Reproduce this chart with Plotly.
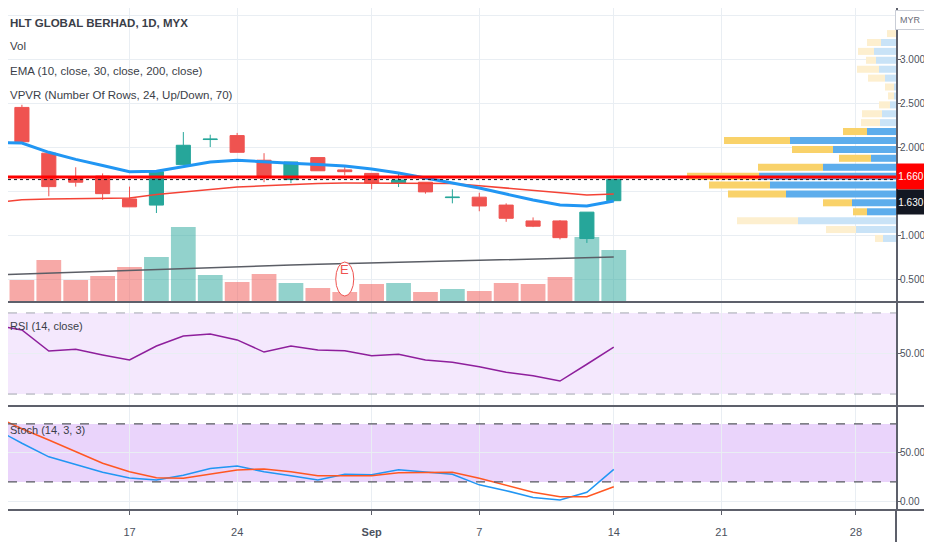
"""
HLT Global Berhad daily chart: candles, volume, EMAs, volume profile, RSI and Stoch.
"""
import plotly.graph_objects as go

# trading days only (Aug 20 and Aug 31 are market holidays)
dates = ["2020-08-10", "2020-08-11", "2020-08-12", "2020-08-13", "2020-08-14",
         "2020-08-17", "2020-08-18", "2020-08-19", "2020-08-21", "2020-08-24",
         "2020-08-25", "2020-08-26", "2020-08-27", "2020-08-28", "2020-09-01",
         "2020-09-02", "2020-09-03", "2020-09-04", "2020-09-07", "2020-09-08",
         "2020-09-09", "2020-09-10", "2020-09-11", "2020-09-14"]
future_dates = ["2020-09-15", "2020-09-17", "2020-09-18", "2020-09-21", "2020-09-22",
                "2020-09-23", "2020-09-24", "2020-09-25", "2020-09-28", "2020-09-29",
                "2020-09-30"]

opens = [2.52, 2.45, 1.93, 1.65, 1.67, 1.41, 1.34, 1.80, 2.085, 2.13, 1.85, 1.63,
         1.88, 1.74, 1.70, 1.59, 1.60, 1.425, 1.43, 1.34, 1.16, 1.16, 0.96, 1.39]
highs = [2.55, 2.48, 1.95, 1.77, 1.70, 1.55, 1.72, 2.17, 2.14, 2.16, 1.93, 1.83,
         1.88, 1.78, 1.70, 1.70, 1.60, 1.52, 1.48, 1.36, 1.20, 1.17, 1.26, 1.63]
lows = [2.15, 2.05, 1.44, 1.55, 1.40, 1.32, 1.25, 1.80, 2.00, 1.94, 1.60, 1.59,
        1.73, 1.68, 1.52, 1.545, 1.47, 1.36, 1.27, 1.15, 1.09, 0.95, 0.91, 1.38]
closes = [2.17, 2.06, 1.55, 1.60, 1.47, 1.32, 1.72, 2.02, 2.09, 1.94, 1.65, 1.83,
          1.73, 1.72, 1.59, 1.625, 1.49, 1.43, 1.33, 1.19, 1.10, 0.97, 1.26, 1.63]
volumes = [4.0, 2.1, 4.1, 2.1, 2.5, 3.4, 4.4, 7.4, 2.6, 1.9, 2.7, 1.8,
           1.3, 0.9, 1.7, 1.8, 0.9, 1.2, 1.0, 1.8, 1.7, 2.4, 6.4, 5.1]

ema10 = [2.05, 2.045, 1.94, 1.86, 1.79, 1.72, 1.725, 1.78, 1.83, 1.85, 1.83, 1.815,
         1.80, 1.784, 1.75, 1.705, 1.648, 1.59, 1.534, 1.466, 1.398, 1.34, 1.33, 1.386]
ema30 = [1.37, 1.40, 1.41, 1.415, 1.42, 1.42, 1.46, 1.49, 1.52, 1.545, 1.56, 1.575,
         1.585, 1.59, 1.59, 1.59, 1.59, 1.585, 1.56, 1.535, 1.505, 1.477, 1.455, 1.465]
ema200 = [0.545, 0.556, 0.567, 0.578, 0.589, 0.600, 0.610, 0.620, 0.630, 0.640, 0.649, 0.658,
          0.667, 0.675, 0.683, 0.691, 0.699, 0.707, 0.714, 0.721, 0.728, 0.735, 0.742, 0.749]

rsi = [64.0, 61.6, 51.2, 52.1, 49.3, 46.8, 53.7, 58.6, 59.6, 56.7, 50.7, 53.7,
       51.7, 51.4, 48.9, 49.6, 46.8, 45.7, 43.5, 40.7, 39.0, 36.4, 44.7, 53.1]
stoch_k = [75, 60, 46, 38, 30, 24, 22, 27, 34, 36.5, 30.5, 26.5,
           22, 28, 27.5, 32.5, 30.5, 28, 17, 11, 4, 1.3, 9.3, 33]
stoch_d = [88, 75, 63.4, 51, 39.3, 30.6, 24.4, 23.8, 28.2, 32.4, 33.4, 30.6,
           26.5, 26.5, 26.5, 29.6, 30, 30, 23.8, 16.9, 9.3, 4.8, 4.8, 15.1]

# volume profile, 24 rows from bottom to top
vpvr_price = [0.961, 1.062, 1.163, 1.264, 1.366, 1.467, 1.568, 1.669, 1.771, 1.872,
              1.973, 2.074, 2.176, 2.277, 2.378, 2.479, 2.581, 2.682, 2.783, 2.884,
              2.986, 3.087, 3.188, 3.289]
vpvr_up = [13, 40, 98, 29, 44, 110, 126, 137, 73, 25, 63, 106,
           29, 16, 14, 6, 2, 2, 11, 17, 20, 22, 15, 0]
vpvr_down = [8, 30, 61, 14, 29, 58, 61, 72, 65, 32, 41, 66,
             24, 19, 20, 11, 6, 9, 17, 22, 10, 16, 14, 9]
vpvr_value_area = [False, False, False, True, True, True, True, True, True, True,
                   True, True, True, False, False, False, False, False, False, False,
                   False, False, False, False]

tick_dates = ["2020-08-17", "2020-08-24", "2020-09-01", "2020-09-07",
              "2020-09-14", "2020-09-21", "2020-09-28"]
tick_labels = ["17", "24", "<b>Sep</b>", "7", "14", "21", "28"]
price_ticks = [0.5, 1.0, 1.5, 2.0, 2.5, 3.0, 3.5]
price_tick_labels = ["0.500", "1.000", "", "2.000", "2.500", "3.000", ""]

hline_level = 1.66
earnings_date = "2020-08-28"
rsi_bands = (30, 70)
stoch_bands = (20, 80)

UP = "#26A69A"
DOWN = "#EF5350"
GRID = "#E9EEF3"
AXIS = "#5D606B"
TEXT = "#4C525E"
FONT = "Liberation Sans, Arial, sans-serif"

# the page body adds an 8px margin, and the right 8px of the window are not shown
W, H = 916, 534
PW, PH = 888, 502  # plot area


def px(x):
    return (x - 8) / PW


def py(y):
    return 1 - (y - 8) / PH


categories = dates + future_dates
vol_colors = ["rgba(38,166,154,0.5)" if c >= o else "rgba(239,83,80,0.5)"
              for o, c in zip(opens, closes)]
up_colors = ["#5DADEC" if v else "#C9E3F7" for v in vpvr_value_area]
down_colors = ["#F9D26A" if v else "#FDEFCF" for v in vpvr_value_area]

fig = go.Figure()

fig.add_trace(go.Bar(x=dates, y=volumes, marker=dict(color=vol_colors, line=dict(width=0)),
                     width=0.92, xaxis="x", yaxis="y", hoverinfo="skip"))

fig.add_trace(go.Scatter(x=dates, y=ema200, mode="lines", line=dict(color="#5B5E66", width=1.5),
                         xaxis="x", yaxis="y2"))
fig.add_trace(go.Scatter(x=dates, y=ema30, mode="lines", line=dict(color="#F44336", width=1.5),
                         xaxis="x", yaxis="y2"))
fig.add_trace(go.Candlestick(
    x=dates, open=opens, high=highs, low=lows, close=closes,
    increasing=dict(line=dict(color=UP, width=1), fillcolor=UP),
    decreasing=dict(line=dict(color=DOWN, width=1), fillcolor=DOWN),
    whiskerwidth=0, xaxis="x", yaxis="y2"))
fig.add_trace(go.Scatter(x=dates, y=ema10, mode="lines", line=dict(color="#2196F3", width=3),
                         xaxis="x", yaxis="y2"))

# volume profile on a reversed overlay axis so the bars grow from the right edge
fig.add_trace(go.Bar(y=vpvr_price, x=vpvr_up, orientation="h", width=0.08,
                     marker=dict(color=up_colors, line=dict(width=0)),
                     xaxis="x4", yaxis="y2"))
fig.add_trace(go.Bar(y=vpvr_price, x=vpvr_down, base=vpvr_up, orientation="h", width=0.08,
                     marker=dict(color=down_colors, line=dict(width=0)),
                     xaxis="x4", yaxis="y2"))

fig.add_trace(go.Scatter(x=dates, y=rsi, mode="lines", line=dict(color="#8E1F9C", width=1.5),
                         xaxis="x2", yaxis="y3"))
fig.add_trace(go.Scatter(x=dates, y=stoch_k, mode="lines", line=dict(color="#2196F3", width=1.5),
                         xaxis="x3", yaxis="y4"))
fig.add_trace(go.Scatter(x=dates, y=stoch_d, mode="lines", line=dict(color="#FF5722", width=1.5),
                         xaxis="x3", yaxis="y4"))

xcommon = dict(type="category", categoryorder="array", categoryarray=categories,
               range=[0.483, 33.49], tickvals=tick_dates, ticktext=tick_labels,
               showgrid=True, gridcolor=GRID, zeroline=False, showline=False,
               fixedrange=True)
ycommon = dict(side="right", showgrid=True, gridcolor=GRID, zeroline=False,
               showline=True, linecolor=AXIS, linewidth=2, ticks="outside",
               ticklen=3, tickcolor=AXIS, ticklabelstandoff=-3,
               tickfont=dict(size=10, color=TEXT, family=FONT))

shapes = [
    # RSI and Stoch bands
    dict(type="rect", xref="x2 domain", x0=0, x1=1, yref="y3", y0=rsi_bands[0], y1=rsi_bands[1],
         fillcolor="#F4E8FD", line=dict(width=0), layer="below"),
    dict(type="rect", xref="x3 domain", x0=0, x1=1, yref="y4", y0=stoch_bands[0], y1=stoch_bands[1],
         fillcolor="#EAD4FB", line=dict(width=0), layer="below"),
]
for lvl in rsi_bands:
    shapes.append(dict(type="line", xref="x2 domain", x0=0, x1=1, yref="y3", y0=lvl, y1=lvl,
                       line=dict(color="#A3A6AF", width=1, dash="dash")))
for lvl in stoch_bands:
    shapes.append(dict(type="line", xref="x3 domain", x0=0, x1=1, yref="y4", y0=lvl, y1=lvl,
                       line=dict(color="#55585F", width=1.2, dash="dash")))
# horizontal drawing and last-price line
shapes.append(dict(type="line", xref="x domain", x0=0, x1=1, yref="y2", y0=hline_level,
                   y1=hline_level, line=dict(color="#FF0000", width=3), layer="above"))
shapes.append(dict(type="line", xref="x domain", x0=0, x1=1, yref="y2", y0=closes[-1],
                   y1=closes[-1], line=dict(color="#131722", width=1, dash="dot"), layer="above"))
# earnings marker
ei = categories.index(earnings_date)
shapes.append(dict(type="circle", xref="x", xsizemode="pixel", xanchor=ei, x0=-9, x1=9,
                   yref="y domain", ysizemode="pixel", yanchor=0.075, y0=-17, y1=17,
                   fillcolor="white", line=dict(color="#EF5350", width=1), layer="above"))
# pane separators and axis line extension
for yy in [302, 406, 510]:
    shapes.append(dict(type="line", xref="paper", x0=0, x1=px(924), yref="paper",
                       y0=py(yy), y1=py(yy), line=dict(color=AXIS, width=2)))
shapes.append(dict(type="line", xref="paper", x0=1, x1=1, yref="paper", y0=py(542), y1=0,
                   line=dict(color=AXIS, width=2)))

annotations = []
legend_lines = [("<b>HLT GLOBAL BERHAD, 1D, MYX</b>", 23), ("Vol", 46),
                ("EMA (10, close, 30, close, 200, close)", 71),
                ("VPVR (Number Of Rows, 24, Up/Down, 70)", 95)]
for text, ly in legend_lines:
    annotations.append(dict(text=text, xref="paper", x=0, xanchor="left",
                            yref="paper", y=py(ly), yanchor="middle", showarrow=False,
                            font=dict(size=11.5, color="#3A3E48", family=FONT)))
annotations.append(dict(text="RSI (14, close)", xref="paper", x=0, xanchor="left",
                        yref="paper", y=py(326), yanchor="middle", showarrow=False,
                        font=dict(size=11, color="#3A3E48", family=FONT)))
annotations.append(dict(text="Stoch (14, 3, 3)", xref="paper", x=0, xanchor="left",
                        yref="paper", y=py(430), yanchor="middle", showarrow=False,
                        font=dict(size=11, color="#3A3E48", family=FONT)))
annotations.append(dict(text="E", x=ei, xref="x", yref="y domain", y=0.075, showarrow=False,
                        font=dict(size=13, color="#EF5350", family=FONT)))
annotations.append(dict(text="1.660", xref="paper", x=1, xanchor="left", yref="y2",
                        y=hline_level, showarrow=False, bgcolor="#FF0000", width=28, height=25,
                        borderpad=0, font=dict(size=10, color="white", family=FONT)))
annotations.append(dict(text="1.630", xref="paper", x=1, xanchor="left", yref="y2",
                        y=closes[-1], yshift=-22, showarrow=False, bgcolor="#131722", width=28,
                        height=24, borderpad=0, font=dict(size=10, color="white", family=FONT)))
annotations.append(dict(text="MYR", xref="paper", x=px(910), xanchor="center",
                        yref="paper", y=py(20), yanchor="middle", showarrow=False,
                        bgcolor="white", bordercolor="#C9CDD6", borderwidth=1, borderpad=4,
                        font=dict(size=9, color="#6A6D78", family=FONT)))

fig.update_layout(
    width=W, height=H,
    margin=dict(l=0, r=W - PW, t=0, b=H - PH),
    paper_bgcolor="white", plot_bgcolor="white",
    showlegend=False, barmode="overlay", boxgap=0.25,
    font=dict(family=FONT, color=TEXT),
    xaxis=dict(xcommon, anchor="y", showticklabels=False, rangeslider=dict(visible=False)),
    xaxis2=dict(xcommon, anchor="y3", matches="x", showticklabels=False),
    xaxis3=dict(xcommon, anchor="y4", matches="x", showticklabels=True, ticks="outside",
                ticklen=4, tickcolor=AXIS, ticklabelstandoff=8,
                tickfont=dict(size=11, color=TEXT, family=FONT)),
    xaxis4=dict(overlaying="x", anchor="y", range=[PW, 0], visible=False, fixedrange=True),
    yaxis=dict(domain=[1 - 293 / PH, 1], range=[0, 29.3], visible=False, fixedrange=True),
    yaxis2=dict(ycommon, overlaying="y", anchor="x", range=[0.25, 3.58],
                tickvals=price_ticks, ticktext=price_tick_labels),
    yaxis3=dict(ycommon, domain=[1 - 397 / PH, 1 - 295 / PH], anchor="x2", range=[24.6, 74.9],
                tickvals=[50], ticktext=["50.00"]),
    yaxis4=dict(ycommon, domain=[0, 1 - 399 / PH], anchor="x3", range=[-9, 97.5],
                tickvals=[0, 50], ticktext=["0.00", "50.00"]),
    shapes=shapes,
    annotations=annotations,
)

fig.write_html("out.html")
